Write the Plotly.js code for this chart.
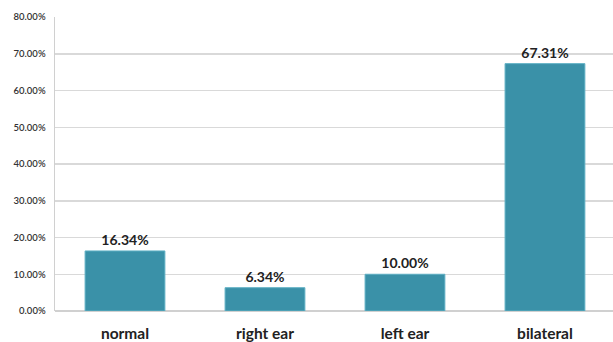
<!DOCTYPE html>
<html>
<head>
<meta charset="utf-8">
<script src="https://cdn.plot.ly/plotly-3.0.1.min.js"></script>
<style>
  html, body { margin: 0; padding: 0; background: #fff; }
  #chart { width: 613px; height: 342px; }
</style>
</head>
<body>
<div id="chart"></div>
<script>
// Hearing-loss side distribution (percent of cases)
const categories = ["normal", "right ear", "left ear", "bilateral"];
const shares = [16.34, 6.34, 10.00, 67.31];
const yTicks = [0, 10, 20, 30, 40, 50, 60, 70, 80];

const trace = {
  type: "bar",
  x: categories,
  y: shares,
  width: 0.57,
  marker: { color: "#3a91a8", line: { color: "#5fb0c4", width: 1 } },
  text: shares.map(v => v.toFixed(2) + "%"),
  textposition: "outside",
  cliponaxis: false,
  textfont: { family: "Lato, 'DejaVu Sans', sans-serif", size: 14, color: "#222", weight: "bold" },
  hoverinfo: "none"
};

const layout = {
  width: 613,
  height: 342,
  margin: { l: 55, r: 0, t: 17, b: 31 },
  paper_bgcolor: "#fff",
  plot_bgcolor: "#fff",
  showlegend: false,
  bargap: 0.43,
  xaxis: {
    type: "category",
    range: [-0.5, 3.486],
    showgrid: false,
    showline: false,
    zeroline: false,
    ticks: "",
    ticklabelstandoff: 11,
    tickfont: { family: "Lato, 'DejaVu Sans', sans-serif", size: 15.5, color: "#222", weight: "bold" }
  },
  yaxis: {
    range: [0, 80],
    tickvals: yTicks,
    ticktext: yTicks.map(v => v.toFixed(2) + "%"),
    showgrid: true,
    gridcolor: "#d9d9d9",
    gridwidth: 1.5,
    zeroline: true,
    zerolinecolor: "#d0d0d0",
    zerolinewidth: 1.5,
    showline: true,
    linecolor: "#d0d0d0",
    linewidth: 1.5,
    ticks: "",
    ticklabelstandoff: 6,
    tickfont: { family: "Lato, 'DejaVu Sans', sans-serif", size: 9.5, color: "#333", weight: 600 }
  }
};

Plotly.newPlot("chart", [trace], layout, { displayModeBar: false, staticPlot: true });
</script>
</body>
</html>
